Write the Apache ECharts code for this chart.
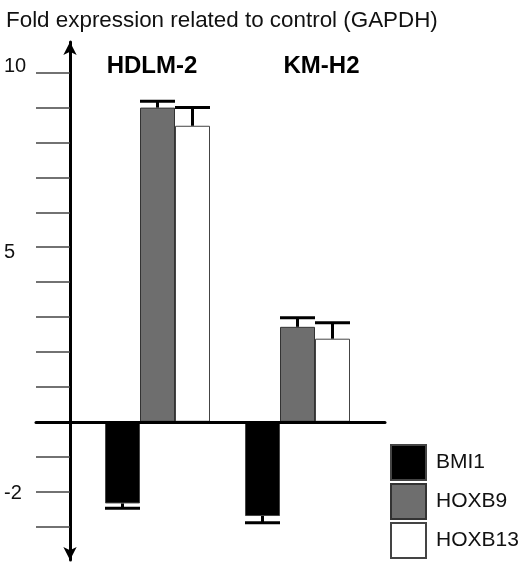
<!DOCTYPE html>
<html>
<head>
<meta charset="utf-8">
<script src="https://cdn.jsdelivr.net/npm/echarts@6/dist/echarts.min.js"></script>
<style>
html,body{margin:0;padding:0;background:#fff;}
#chart{width:520px;height:562px;}
</style>
</head>
<body>
<div id="chart"></div>
<script>
// ---- data ----
const categories = ['HDLM-2', 'KM-H2'];
const seriesNames = ['BMI1', 'HOXB9', 'HOXB13'];
const bmi1 = [-2.34, -2.70];
const hoxb9 = [9.0, 2.72];
const hoxb13 = [8.48, 2.38];
const bmi1Err = [0.14, 0.19];
const hoxb9Err = [0.18, 0.26];
const hoxb13Err = [0.52, 0.46];
const tickValues = [-3, -2, -1, 0, 1, 2, 3, 4, 5, 6, 7, 8, 9, 10];
const labelValues = [10, 5, -2];
const yMin = -3.96, yMax = 10.88;

const values = [bmi1, hoxb9, hoxb13];
const errs = [bmi1Err, hoxb9Err, hoxb13Err];
const fills = ['#000000', '#6e6e6e', '#ffffff'];
const borders = ['#444444', '#333333', '#444444'];
const labelPads = [[0, 11, 0, 0], [0, 0, 0, 48]];

const errData = [];
values.forEach((arr, s) => arr.forEach((v, i) => errData.push([i, s, v, errs[s][i]])));

const font = '"Liberation Sans", Arial, sans-serif';
const chart = echarts.init(document.getElementById('chart'), null, {renderer: 'canvas'});

const barSeries = seriesNames.map((name, s) => ({
  name: name,
  type: 'bar',
  xAxisIndex: 0,
  yAxisIndex: 0,
  data: values[s],
  barGap: '0%',
  barCategoryGap: '25%',
  itemStyle: {color: fills[s], borderColor: borders[s], borderWidth: 1},
  z: 2
}));

const labelRich = {
  top: {fontFamily: font, fontSize: 20, color: '#111', padding: [0, 0, 12, 0]},
  mid: {fontFamily: font, fontSize: 20, color: '#111', padding: [10, 0, 0, 0]},
  low: {fontFamily: font, fontSize: 20, color: '#111', padding: [4, 0, 0, 0]}
};

const option = {
  animation: false,
  backgroundColor: '#ffffff',
  title: {
    text: 'Fold expression related to control (GAPDH)',
    left: 1, top: 5,
    textStyle: {fontFamily: font, fontSize: 22.4, fontWeight: 'normal', color: '#111'}
  },
  legend: {
    orient: 'vertical',
    left: 390, top: 444,
    width: 130, height: 140,
    padding: 0,
    itemWidth: 35, itemHeight: 35, itemGap: 2,
    icon: 'rect',
    data: seriesNames,
    selectedMode: false,
    textStyle: {fontFamily: font, fontSize: 21, color: '#111', padding: [0, 0, 0, 5]}
  },
  grid: [
    {left: 87.5, width: 280, top: 42, bottom: 2},
    {left: 36, right: 135, top: 42, bottom: 2}
  ],
  xAxis: [
    {
      type: 'category', gridIndex: 0, position: 'top', offset: -24.5,
      data: categories.map((c, i) => ({value: c, textStyle: {padding: labelPads[i], verticalAlign: 'middle'}})),
      axisLine: {show: false, onZero: false},
      axisTick: {show: false},
      axisLabel: {show: true, margin: 0, verticalAlign: 'middle',
        fontFamily: font, fontSize: 24, fontWeight: 'bold', color: '#000'}
    },
    {
      type: 'category', gridIndex: 1, data: [''],
      axisLine: {show: true, onZero: true, lineStyle: {color: '#000', width: 3}},
      axisTick: {show: false},
      axisLabel: {show: false},
      z: 3
    }
  ],
  yAxis: [
    {type: 'value', gridIndex: 0, min: yMin, max: yMax, show: false},
    {
      type: 'value', gridIndex: 1, min: yMin, max: yMax, offset: -34,
      splitLine: {show: false},
      axisLine: {show: true, onZero: false, symbol: ['arrow', 'arrow'], symbolSize: [10, 13],
        lineStyle: {color: '#000', width: 3}},
      axisTick: {show: true, customValues: tickValues, length: 34, inside: false,
        lineStyle: {color: '#444', width: 1.5}},
      axisLabel: {show: true, customValues: labelValues, margin: 66, align: 'left',
        fontFamily: font, fontSize: 20, color: '#111', rich: labelRich,
        formatter: function (v) {
          const key = v >= 10 ? 'top' : (v > 0 ? 'mid' : 'low');
          return '{' + key + '|' + v + '}';
        }}
    }
  ],
  series: barSeries.concat([{
    type: 'custom',
    xAxisIndex: 0,
    yAxisIndex: 0,
    data: errData,
    encode: {x: 0, y: 2},
    z: 4,
    silent: true,
    renderItem: function (params, api) {
      const cat = api.value(0), s = api.value(1), v = api.value(2), e = api.value(3);
      const band = api.size([1, 0])[0];
      const bw = band * 0.75 / 3;
      const cx = api.coord([cat, 0])[0] + (s - 1) * bw;
      const sign = v < 0 ? -1 : 1;
      const y0 = api.coord([cat, v])[1];
      const y1 = api.coord([cat, v + sign * e])[1];
      const st = {stroke: '#000', lineWidth: 3};
      return {
        type: 'group',
        children: [
          {type: 'line', shape: {x1: cx, y1: y0, x2: cx, y2: y1}, style: st},
          {type: 'line', shape: {x1: cx - bw / 2, y1: y1, x2: cx + bw / 2, y2: y1}, style: st}
        ]
      };
    }
  }])
};
chart.setOption(option);
</script>
</body>
</html>
